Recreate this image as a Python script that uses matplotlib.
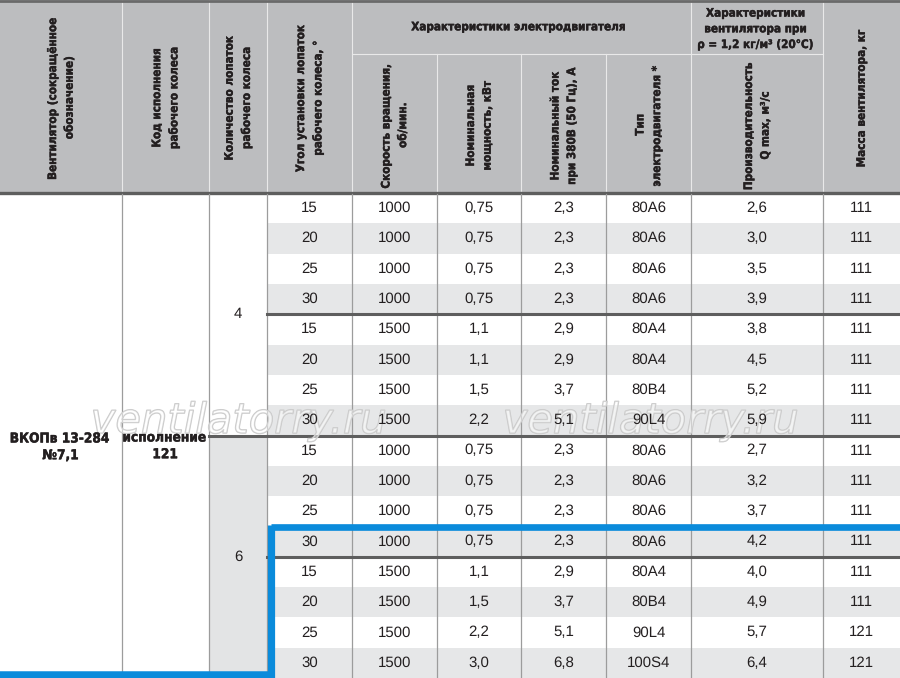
import matplotlib.pyplot as plt
import matplotlib.patheffects as pe
from matplotlib import font_manager
from matplotlib.patches import Rectangle

plt.rcParams['text.hinting'] = 'no_hinting'
plt.rcParams['text.hinting_factor'] = 1

# table data
angles = [15, 20, 25, 30, 15, 20, 25, 30, 15, 20, 25, 30, 15, 20, 25, 30]
speed = [1000, 1000, 1000, 1000, 1500, 1500, 1500, 1500,
         1000, 1000, 1000, 1000, 1500, 1500, 1500, 1500]
power = ['0,75', '0,75', '0,75', '0,75', '1,1', '1,1', '1,5', '2,2',
         '0,75', '0,75', '0,75', '0,75', '1,1', '1,5', '2,2', '3,0']
current = ['2,3', '2,3', '2,3', '2,3', '2,9', '2,9', '3,7', '5,1',
           '2,3', '2,3', '2,3', '2,3', '2,9', '3,7', '5,1', '6,8']
motor = ['80A6', '80A6', '80A6', '80A6', '80A4', '80A4', '80B4', '90L4',
         '80A6', '80A6', '80A6', '80A6', '80A4', '80B4', '90L4', '100S4']
flow = ['2,6', '3,0', '3,5', '3,9', '3,8', '4,5', '5,2', '5,9',
        '2,7', '3,2', '3,7', '4,2', '4,0', '4,9', '5,7', '6,4']
mass = ['111'] * 14 + ['121', '121']
blades = ['4', '6']
fan_name = 'ВКОПв 13-284\n№7,1'
wheel_code = 'исполнение\n121'

headers_main = ['Вентилятор (сокращённое\nобозначение)',
                'Код исполнения\nрабочего колеса',
                'Количество лопаток\nрабочего колеса',
                'Угол установки лопаток\nрабочего колеса, °']
headers_sub = ['Скорость вращения,\nоб/мин.',
               'Номинальная\nмощность, кВт',
               'Номинальный ток\nпри 380В (50 Гц), А',
               'Тип\nэлектродвигателя *',
               'Производительность\nQ max, м³/с']
group_motor = 'Характеристики электродвигателя'
group_fan = 'Характеристики\nвентилятора при\nρ = 1,2 кг/м³ (20°C)'
header_mass = 'Масса вентилятора, кг'

# layout (pixels)
W, H = 900, 678
cols = [0, 122, 209, 267, 352, 437, 521, 606, 691, 823, 900]
head_h = 193
sub_y = 54
row_h = (H - head_h) / 16

hdr_bg = '#bcbdbf'
alt_bg = '#e6e7e8'
thick = '#5e5e5e'
vline = '#9c9c9c'
blue = '#0a8bdb'
ink = '#231f20'

# a condensed bold face if one is installed
has_cond = any(f.name == 'DejaVu Sans' and f.stretch == 'condensed'
               for f in font_manager.fontManager.ttflist)
hsize = 8.4 if has_cond else 7.6
regular = ['Liberation Sans', 'DejaVu Sans']
heavy = [pe.withStroke(linewidth=0.3, foreground=ink)]

fig = plt.figure(figsize=(9, 6.78), dpi=100)
ax = fig.add_axes([0, 0, 1, 1])
ax.set_xlim(0, W)
ax.set_ylim(H, 0)
ax.axis('off')

# header background
ax.add_patch(Rectangle((0, 0), W, head_h, color=hdr_bg, lw=0))

# body row backgrounds
for i in range(16):
    y0 = head_h + i * row_h
    if i % 2 == 1:
        ax.add_patch(Rectangle((cols[3], y0), W - cols[3], row_h, color=alt_bg, lw=0))
ax.add_patch(Rectangle((cols[2], head_h + 8 * row_h), cols[3] - cols[2], 8 * row_h,
                       color='#e3e4e5', lw=0))

# header lines
for x in cols[1:-1]:
    y_top = sub_y if x in (437, 521, 606) else 0
    ax.plot([x, x], [y_top, head_h], color='#e9e9e9', lw=0.8)
ax.plot([cols[4], cols[9]], [sub_y, sub_y], color='#e9e9e9', lw=0.8)
ax.plot([0, W], [0.8, 0.8], color='#6a6a6a', lw=2)
ax.plot([0, W], [head_h, head_h], color=thick, lw=2.4)

# body vertical lines
for x in cols[1:-1]:
    ax.plot([x, x], [head_h + 1, H], color=vline, lw=0.9)

# group separators
for g in (4, 8, 12):
    y = head_h + g * row_h
    x0 = cols[2] if g == 8 else cols[3]
    ax.plot([x0, W], [y, y], color=thick, lw=2.2)

# watermark (under the text)
for xc in (240, 652):
    ax.text(xc, 433, 'ventilatorry.ru', family='DejaVu Sans', style='oblique',
            fontsize=30, ha='center', va='baseline', color=(1, 1, 1, 0.3), zorder=2,
            path_effects=[pe.withStroke(linewidth=1.0, foreground='#c8c8c8')])

# header text
hkw = dict(family='DejaVu Sans', fontstretch='condensed', fontweight='bold',
           fontsize=hsize, color=ink, ha='center', va='center',
           multialignment='center', linespacing=1.55, path_effects=heavy)
for j, t in enumerate(headers_main):
    ax.text((cols[j] + cols[j + 1]) / 2, head_h / 2, t, rotation=90, **hkw)
for j, t in enumerate(headers_sub):
    ax.text((cols[j + 4] + cols[j + 5]) / 2, (sub_y + head_h) / 2 + 1, t, rotation=90, **hkw)
ax.text((cols[4] + cols[8]) / 2, sub_y / 2, group_motor, **hkw)
ax.text((cols[8] + cols[9]) / 2, sub_y / 2 + 2, group_fan,
        **{**hkw, 'linespacing': 1.45})
ax.text((cols[9] + cols[10]) / 2, head_h / 2, header_mass, rotation=90, **hkw)

# body text
bkw = dict(family=regular, fontsize=10.5, color=ink, ha='center', va='center', zorder=3)
columns = [angles, speed, power, current, motor, flow, mass]
for i in range(16):
    yc = head_h + (i + 0.5) * row_h
    for j, col in enumerate(columns):
        ax.text((cols[j + 3] + cols[j + 4]) / 2, yc, str(col[i]), **bkw)

for g, b in enumerate(blades):
    ax.text((cols[2] + cols[3]) / 2, head_h + (g * 8 + 4) * row_h, b, **bkw)

lkw = dict(family='DejaVu Sans', fontstretch='condensed', fontweight='bold',
           fontsize=hsize + 1.4, color=ink, ha='center', va='center',
           multialignment='center', linespacing=1.3, zorder=3, path_effects=heavy)
ax.text((cols[0] + cols[1]) / 2, 447, fan_name, **lkw)
ax.text((cols[1] + cols[2]) / 2, 446, wheel_code, **lkw)

# blue frame
ax.plot([cols[3] + 3.5, W], [527, 527], color=blue, lw=4.8, solid_capstyle='butt')
ax.plot([cols[3] + 3.5, cols[3] + 3.5], [524.6, H], color=blue, lw=5.2, solid_capstyle='butt')
ax.plot([0, cols[3] + 6], [674.5, 674.5], color=blue, lw=5.4, solid_capstyle='butt')

fig.savefig('out.png', dpi=100)
